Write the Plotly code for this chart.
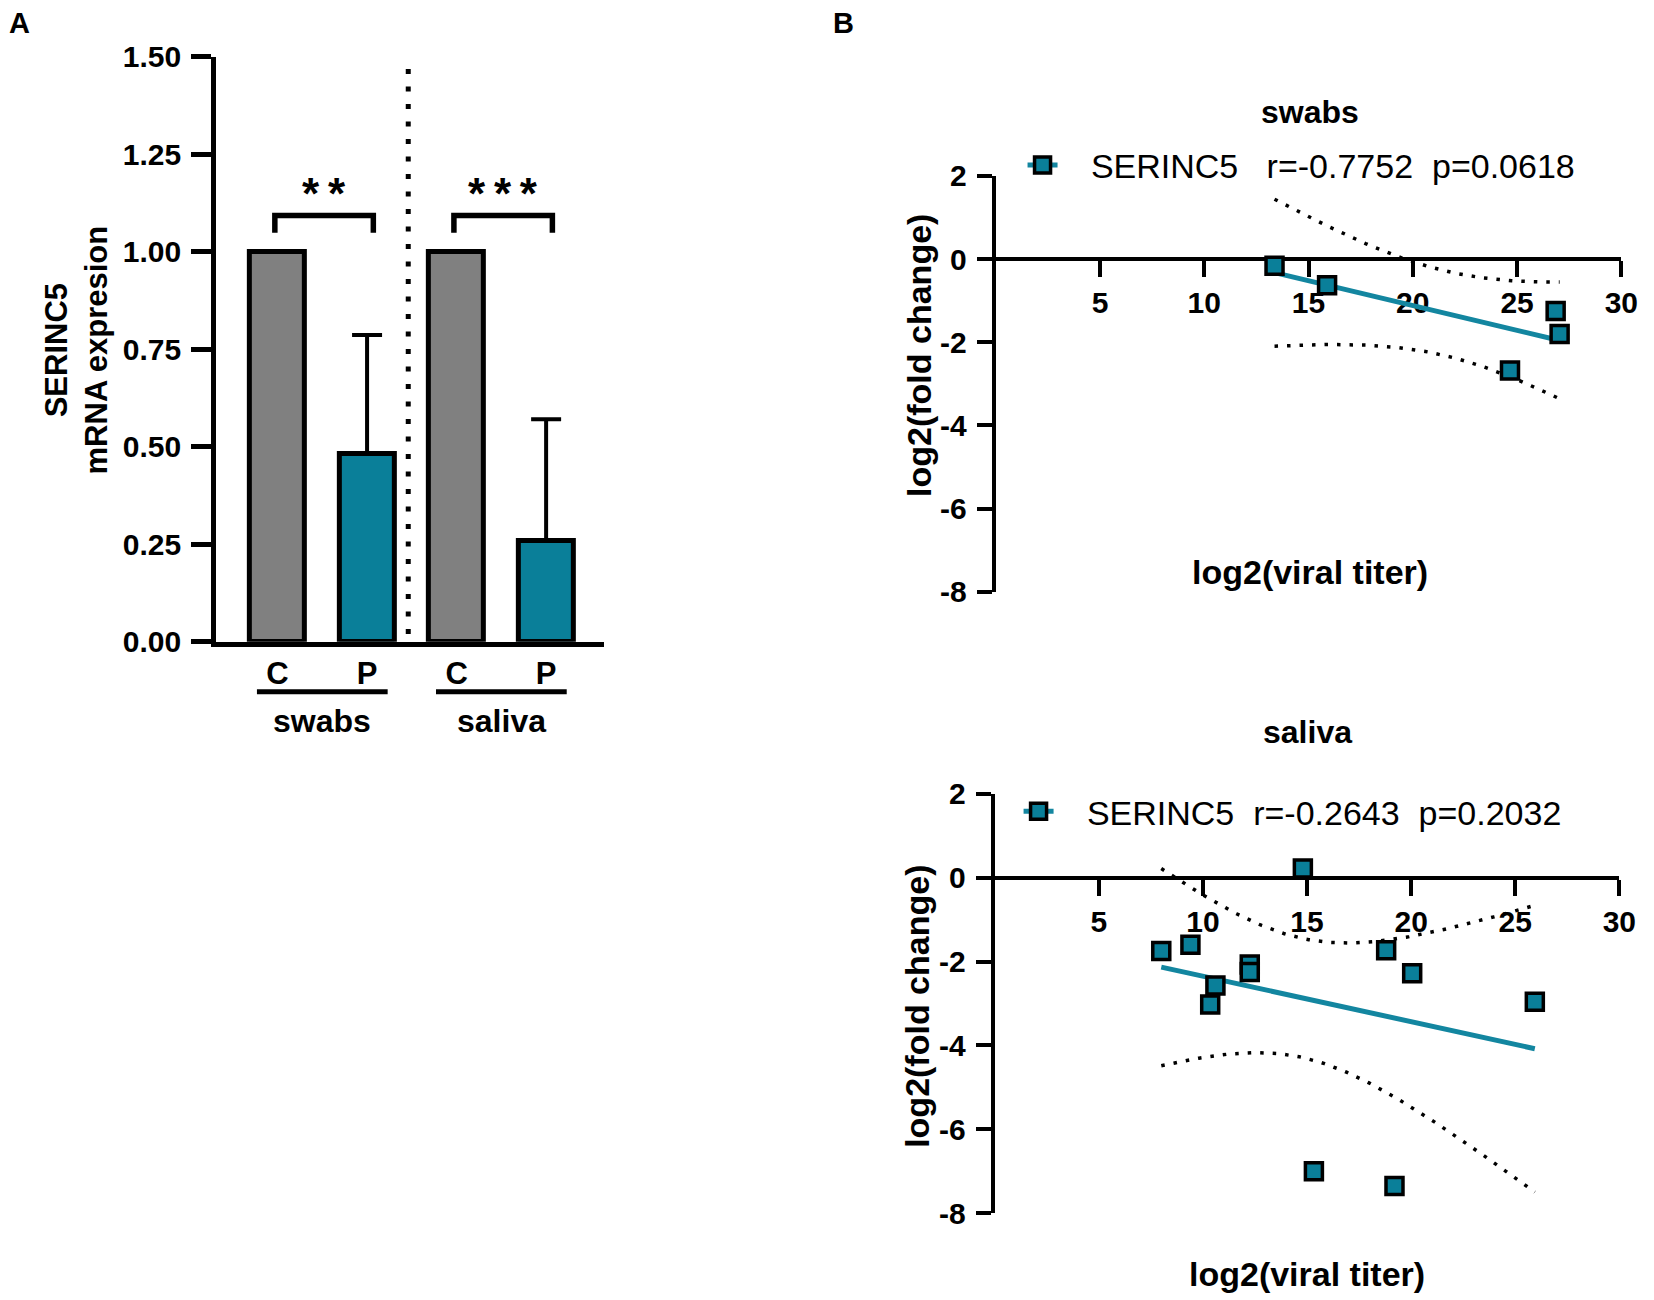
import numpy as np
import plotly.graph_objects as go

# ---------------- data ----------------
# Panel A: relative SERINC5 mRNA expression (mean + SD)
groups = ["swabs", "saliva"]
conditions = ["C", "P"]
bar_means = [1.00, 0.482, 1.00, 0.26]
bar_sd = [0.0, 0.305, 0.0, 0.311]
bar_colors = ["#808080", "#0a7f99", "#808080", "#0a7f99"]
significance = ["*\u2009*", "*\u2009*\u2009*"]

# Panel B: log2(viral titer) vs log2(fold change)
swab_titer = [13.37, 15.89, 26.85, 27.04, 24.66]
swab_fc = [-0.16, -0.63, -1.25, -1.80, -2.68]
swab_stats = "r=-0.7752\u00a0\u00a0p=0.0618"

saliva_titer = [8.0, 9.4, 10.6, 10.35, 12.25, 12.25, 14.8, 15.33, 18.8, 19.2, 20.05, 25.94]
saliva_fc = [-1.75, -1.60, -2.57, -3.02, -2.07, -2.25, 0.22, -7.0, -1.73, -7.35, -2.28, -2.96]
saliva_stats = "r=-0.2643\u00a0\u00a0p=0.2032"

y_ticks_a = [0.0, 0.25, 0.5, 0.75, 1.0, 1.25, 1.5]
x_ticks_b = [5, 10, 15, 20, 25, 30]
y_ticks_b = [-8, -6, -4, -2, 0, 2]

# two-sided 95% t critical values by degrees of freedom
T975 = {3: 3.1824, 10: 2.2281}

# ---------------- helpers ----------------
W, H = 1654, 1300
FONT = "Liberation Sans, Arial, sans-serif"
TEAL = "#0a7f99"
LINE_TEAL = "#1386a0"

# placement calibration of the photographed page (target pixel -> layout pixel)
SX, OX = 0.995, 0.0
SY, OY = 0.974, 16.1


def fx(px):
    return ((px - OX) / SX) / W


def fy(py):
    return 1 - ((py - OY) / SY) / H


def fit_with_ci(x, y, n_pts=120):
    x = np.asarray(x, float)
    y = np.asarray(y, float)
    n = len(x)
    slope, intercept = np.polyfit(x, y, 1)
    resid = y - (slope * x + intercept)
    s = np.sqrt(np.sum(resid ** 2) / (n - 2))
    xm = x.mean()
    sxx = np.sum((x - xm) ** 2)
    xs = np.linspace(x.min(), x.max(), n_pts)
    yh = slope * xs + intercept
    half = T975[n - 2] * s * np.sqrt(1.0 / n + (xs - xm) ** 2 / sxx)
    return xs, yh, yh + half, yh - half


fig = go.Figure()

# ---------------- Panel A ----------------
positions = list(range(1, len(bar_means) + 1))
tick_text = [c for g in groups for c in conditions]

fig.add_trace(go.Bar(
    x=positions, y=bar_means, width=0.61,
    marker=dict(color=bar_colors, line=dict(color="black", width=5)),
    error_y=dict(type="data", symmetric=False, array=bar_sd,
                 arrayminus=[0] * len(bar_sd), color="black", thickness=4, width=15),
    xaxis="x", yaxis="y", showlegend=False,
))

axis_common = dict(showgrid=False, zeroline=False, linecolor="black",
                   tickcolor="black", showline=True)

fig.update_layout(
    xaxis=dict(domain=[fx(217), fx(607)], range=[0.311, 4.644], anchor="y",
               tickvals=positions, ticktext=tick_text, ticks="",
               tickfont=dict(family=FONT, size=31, color="black", weight="bold"),
               ticklabelstandoff=0, linewidth=4.5, **axis_common),
    yaxis=dict(domain=[fy(641), fy(56)], range=[0, 1.5], anchor="x",
               tickvals=y_ticks_a, tickformat=".2f", ticks="outside", ticklen=20, tickwidth=4.5,
               tickfont=dict(family=FONT, size=30, color="black", weight="bold"),
               ticklabelstandoff=4, linewidth=4.5, **axis_common),
)

shapes = []
annotations = []

# separator between the two groups
shapes.append(dict(type="line", xref="x", yref="y", x0=2.46, x1=2.46, y0=0.02, y1=1.5,
                   line=dict(color="black", width=5, dash="5px,12.5px")))

for gi, g in enumerate(groups):
    left = positions[2 * gi]
    right = positions[2 * gi + 1]
    center = (left + right) / 2
    # significance bracket
    shapes.append(dict(type="path", xref="x", yref="y",
                       path=f"M {left - 0.03},1.049 L {left - 0.03},1.093 L {right + 0.07},1.093 L {right + 0.07},1.049",
                       line=dict(color="black", width=5.5)))
    annotations.append(dict(xref="x", yref="y", x=center + 0.02, y=1.15, text=significance[gi],
                            showarrow=False, xanchor="center", yanchor="middle",
                            font=dict(family=FONT, size=44, color="black", weight="bold")))
    # group underline and label
    shapes.append(dict(type="line", xref="x", yref="paper", x0=center - 0.73, x1=center + 0.73,
                       y0=fy(691), y1=fy(691), line=dict(color="black", width=5)))
    annotations.append(dict(xref="x", yref="paper", x=center, y=fy(720), text=g,
                            showarrow=False, xanchor="center", yanchor="middle",
                            font=dict(family=FONT, size=32, color="black", weight="bold")))

annotations.append(dict(xref="paper", yref="paper", x=fx(77), y=fy(349),
                        text="SERINC5<br>mRNA expresion", textangle=-90, showarrow=False,
                        xanchor="center", yanchor="middle",
                        font=dict(family=FONT, size=31, color="black", weight="bold")))

# panel letters
annotations.append(dict(xref="paper", yref="paper", x=fx(20), y=fy(22), text="A", showarrow=False,
                        xanchor="center", yanchor="middle",
                        font=dict(family=FONT, size=29, color="black", weight="bold")))
annotations.append(dict(xref="paper", yref="paper", x=fx(848), y=fy(22), text="B", showarrow=False,
                        xanchor="center", yanchor="middle",
                        font=dict(family=FONT, size=29, color="black", weight="bold")))

# ---------------- Panel B ----------------
panels = [
    dict(title="swabs", tx=swab_titer, fc=swab_fc, stats=swab_stats, gap="\u00a0\u00a0\u00a0",
         xa="x2", ya="y2", xdom=(1001, 1630), ydom=(591, 175), legend="legend",
         title_y=111.5, title_x=1317, xt_y=571, yt_x=924, yt_y=355, leg_y=164.6, leg_x=1028),
    dict(title="saliva", tx=saliva_titer, fc=saliva_fc, stats=saliva_stats, gap="\u00a0\u00a0",
         xa="x3", ya="y3", xdom=(1000, 1628), ydom=(1212.6, 793), legend="legend2",
         title_y=731, title_x=1314, xt_y=1273, yt_x=922, yt_y=1006, leg_y=811, leg_x=1024),
]

for p in panels:
    xs, yh, up, lo = fit_with_ci(p["tx"], p["fc"])
    for band in (up, lo):
        fig.add_trace(go.Scatter(x=xs, y=band, mode="lines", xaxis=p["xa"], yaxis=p["ya"],
                                 line=dict(color="black", width=3.5, dash="3.5px,9px"),
                                 showlegend=False, hoverinfo="skip"))
    fig.add_trace(go.Scatter(x=xs, y=yh, mode="lines", xaxis=p["xa"], yaxis=p["ya"],
                             line=dict(color=LINE_TEAL, width=5), showlegend=False))
    fig.add_trace(go.Scatter(x=p["tx"], y=p["fc"], mode="markers", xaxis=p["xa"], yaxis=p["ya"],
                             marker=dict(symbol="square", size=17, color=TEAL,
                                         line=dict(color="black", width=3.5)),
                             showlegend=False, cliponaxis=False))
    # legend entry (line + marker, no data)
    fig.add_trace(go.Scatter(x=[None], y=[None], mode="lines+markers", xaxis=p["xa"], yaxis=p["ya"],
                             name="\u00a0\u00a0\u00a0SERINC5" + p["gap"] + p["stats"],
                             line=dict(color=LINE_TEAL, width=5),
                             marker=dict(symbol="square", size=17, color=TEAL,
                                         line=dict(color="black", width=3.5)),
                             legend=p["legend"], showlegend=True))

    ymin, ymax = y_ticks_b[0], y_ticks_b[-1]
    y0f, y1f = fy(p["ydom"][0]), fy(p["ydom"][1])
    xpos = y0f + (0 - ymin) / (ymax - ymin) * (y1f - y0f)
    xkey = "xaxis" + p["xa"][1:]
    ykey = "yaxis" + p["ya"][1:]
    fig.update_layout({
        xkey: dict(domain=[fx(p["xdom"][0]), fx(p["xdom"][1])], range=[0, 30],
                   anchor="free", position=xpos, layer="below traces",
                   tickvals=x_ticks_b, ticktext=[str(v) for v in x_ticks_b],
                   ticks="outside", ticklen=16, tickwidth=4,
                   tickfont=dict(family=FONT, size=30, color="black", weight="bold"),
                   ticklabelstandoff=0, ticklabeloverflow="allow", linewidth=4, **axis_common),
        ykey: dict(domain=[y0f, y1f], range=[ymin, ymax], anchor=p["xa"],
                   tickvals=y_ticks_b, ticktext=[str(v) for v in y_ticks_b],
                   ticks="outside", ticklen=15, tickwidth=4,
                   tickfont=dict(family=FONT, size=30, color="black", weight="bold"),
                   ticklabelstandoff=4, linewidth=4, **axis_common),
        p["legend"]: dict(x=fx(p["leg_x"]), y=fy(p["leg_y"]), xanchor="left", yanchor="middle",
                          bgcolor="rgba(0,0,0,0)", borderwidth=0,
                          font=dict(family=FONT, size=34, color="black")),
    })
    annotations.append(dict(xref="paper", yref="paper", x=fx(p["title_x"]), y=fy(p["title_y"]),
                            text=p["title"], showarrow=False, xanchor="center", yanchor="middle",
                            font=dict(family=FONT, size=32, color="black", weight="bold")))
    annotations.append(dict(xref="paper", yref="paper", x=fx(p["title_x"]), y=fy(p["xt_y"]),
                            text="log2(viral titer)", showarrow=False, xanchor="center", yanchor="middle",
                            font=dict(family=FONT, size=34, color="black", weight="bold")))
    annotations.append(dict(xref="paper", yref="paper", x=fx(p["yt_x"]), y=fy(p["yt_y"]),
                            text="log2(fold change)", textangle=-90, showarrow=False,
                            xanchor="center", yanchor="middle",
                            font=dict(family=FONT, size=34, color="black", weight="bold")))

fig.update_layout(
    width=W, height=H, autosize=False,
    margin=dict(l=0, r=0, t=0, b=0),
    paper_bgcolor="white", plot_bgcolor="white",
    shapes=shapes, annotations=annotations,
    font=dict(family=FONT, color="black"),
    bargap=0,
)

post = (
    "var gd=document.getElementById('{plot_id}');"
    "gd.style.position='fixed';gd.style.top='0px';gd.style.left='0px';"
    "document.body.style.margin='0';document.body.style.overflow='hidden';"
    "document.documentElement.style.overflow='hidden';"
)

fig.write_html("out.html", config={"displayModeBar": False}, post_script=post)
